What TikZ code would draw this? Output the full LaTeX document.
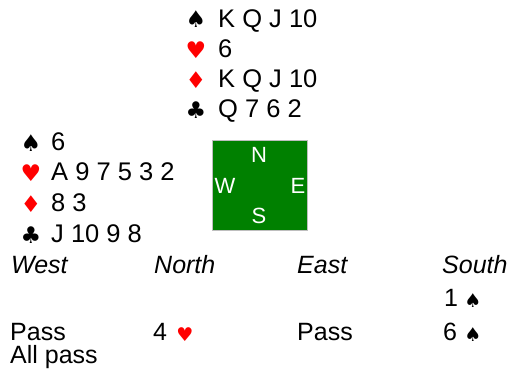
\documentclass[tikz,border=0pt]{standalone}
\usepackage{fontspec}
\setmainfont{Liberation Sans}
\newfontfamily\suitfont{DejaVu Sans}
\definecolor{suitred}{RGB}{255,0,0}
\definecolor{tablegreen}{RGB}{0,128,0}
\definecolor{tableedge}{RGB}{190,190,190}
\begin{document}
\begin{tikzpicture}[x=1pt,y=-1pt,
  txt/.style={inner sep=0pt,anchor=base west,font=\fontsize{25.5}{30}\selectfont},
  hdr/.style={txt,font=\fontsize{25}{30}\selectfont\itshape},
  bid/.style={txt,font=\fontsize{25}{30}\selectfont},
  suit/.style={inner sep=0pt,anchor=base,font=\suitfont\fontsize{23}{26}\selectfont},
  bidsuit/.style={inner sep=0pt,anchor=base,font=\suitfont\fontsize{19}{22}\selectfont},
  redsuit/.style={suit,text=suitred},
  redbidsuit/.style={bidsuit,text=suitred},
  compass/.style={inner sep=0pt,anchor=base,text=white,font=\fontsize{22}{24}\selectfont},
  table/.style={fill=tablegreen,draw=tableedge,line width=1pt}]
\useasboundingbox (0,0) rectangle (511,375);
% North hand
\node[suit] (ns) at (196,27) {♠};
\node[txt] (nst) at (218,27) {K Q J 10};
\node[redsuit] (nh) at (196,58) {♥};
\node[txt] (nht) at (218,57) {6};
\node[redsuit] (nd) at (196,88) {♦};
\node[txt] (ndt) at (218,87) {K Q J 10};
\node[suit] (nc) at (196,118) {♣};
\node[txt] (nct) at (218,117) {Q 7 6 2};
% West hand
\node[suit] (ws) at (31,151) {♠};
\node[txt] (wst) at (51,150) {6};
\node[redsuit] (wh) at (31,181) {♥};
\node[txt] (wht) at (51,180) {A 9 7 5 3 2};
\node[redsuit] (wd) at (31,212) {♦};
\node[txt] (wdt) at (51,211) {8 3};
\node[suit] (wc) at (31,243) {♣};
\node[txt] (wct) at (51,242) {J 10 9 8};
% Table
\draw[table] (212,140) rectangle (307,230);
\node[compass] (cn) at (259,162) {N};
\node[compass] (cw) at (225,193) {W};
\node[compass] (ce) at (298,193) {E};
\node[compass] (cs) at (259,223) {S};
% Auction
\node[hdr] (hw) at (11,273) {West};
\node[hdr] (hn) at (154,273) {North};
\node[hdr] (he) at (297,273) {East};
\node[hdr] (hs) at (442,273) {South};
\node[bid] (b1) at (444,306) {1};
\node[bidsuit] (b1s) at (473,307) {♠};
\node[bid] (b2) at (10,340) {Pass};
\node[bid] (b3) at (153,340) {4};
\node[redbidsuit] (b3s) at (185,341) {♥};
\node[bid] (b4) at (297,340) {Pass};
\node[bid] (b5) at (443,340) {6};
\node[bidsuit] (b5s) at (473,341) {♠};
\node[bid] (b6) at (10,363) {All pass};
\end{tikzpicture}
\end{document}
